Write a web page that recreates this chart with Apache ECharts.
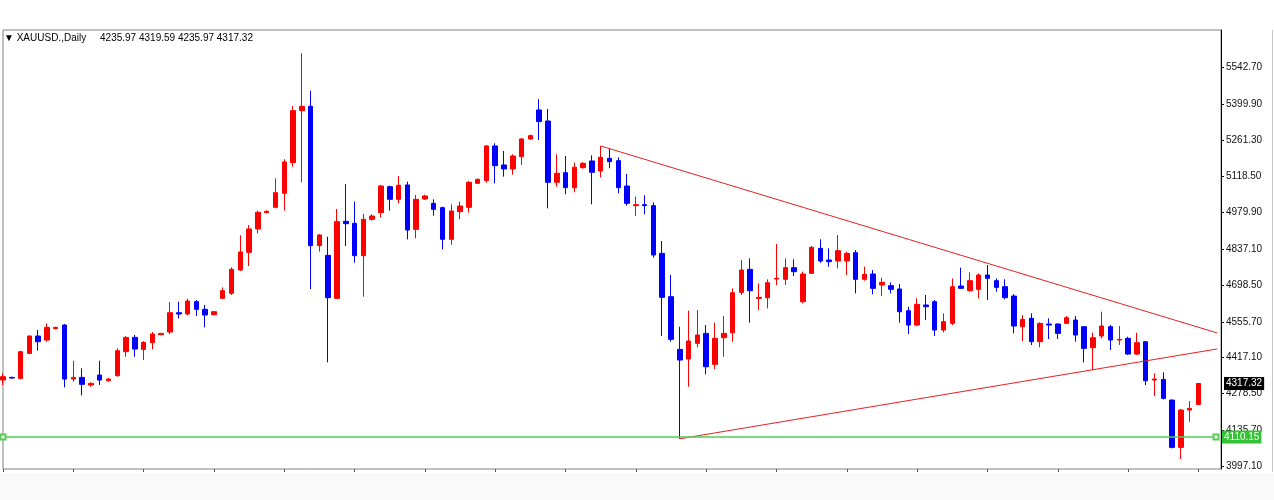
<!DOCTYPE html>
<html>
<head>
<meta charset="utf-8">
<title>XAUUSD Daily</title>
<script src="https://cdn.jsdelivr.net/npm/echarts@6/dist/echarts.min.js"></script>
<style>
    html, body { margin: 0; padding: 0; background: #fff; }
    #chart { width: 1274px; height: 500px; }
</style>
</head>
<body>
<div id="chart"></div>
<script>
// daily bars, each one [open, close, low, high]
var candles = [
    [4330.7, 4343.6, 4311.3, 4356.5], [4341.0, 4338.4, 4335.8, 4343.6], [4337.1, 4440.5, 4333.2, 4444.4],
    [4434.0, 4501.2, 4431.4, 4503.8], [4501.2, 4479.2, 4444.4, 4524.5], [4485.7, 4534.8, 4479.2, 4550.3],
    [4529.6, 4534.8, 4527.0, 4537.4], [4543.8, 4334.5, 4302.2, 4547.7], [4334.5, 4341.0, 4324.2, 4405.6],
    [4341.0, 4313.9, 4271.2, 4375.9], [4311.3, 4317.7, 4304.8, 4321.6], [4350.0, 4330.7, 4311.3, 4405.6],
    [4328.1, 4334.5, 4324.2, 4338.4], [4347.5, 4444.4, 4343.6, 4453.4], [4440.5, 4496.0, 4421.1, 4501.2],
    [4496.0, 4450.8, 4421.1, 4505.1], [4449.5, 4476.7, 4408.2, 4481.8], [4475.4, 4509.0, 4449.5, 4516.7],
    [4506.4, 4511.5, 4505.1, 4512.8], [4516.7, 4591.6, 4509.0, 4633.0], [4591.6, 4586.5, 4569.7, 4634.3],
    [4586.5, 4636.9, 4581.3, 4645.9], [4634.3, 4604.6, 4578.7, 4640.7], [4604.6, 4582.6, 4534.8, 4621.4],
    [4583.9, 4595.5, 4581.3, 4598.1], [4647.2, 4676.9, 4644.6, 4689.8], [4666.6, 4759.6, 4660.1, 4767.4],
    [4757.0, 4826.8, 4753.1, 4891.4], [4825.5, 4916.0, 4772.5, 4931.4], [4916.0, 4980.5, 4899.1, 4987.0],
    [4979.2, 4984.4, 4976.7, 4988.3], [4999.9, 5056.8, 4996.0, 5112.3], [5054.2, 5175.6, 4987.0, 5186.0],
    [5173.1, 5374.6, 5157.5, 5392.7], [5374.6, 5391.4, 5096.8, 5596.8], [5391.4, 4851.3, 4683.4, 5452.1],
    [4851.3, 4892.7, 4828.1, 4896.6], [4813.9, 4649.8, 4399.1, 4886.2], [4647.2, 4944.4, 4644.6, 4993.5],
    [4945.7, 4936.6, 4850.0, 5090.4], [4937.9, 4812.6, 4785.4, 5021.9], [4812.6, 4953.4, 4653.7, 4974.1],
    [4953.4, 4966.3, 4948.2, 4972.8], [4979.2, 5082.6, 4961.2, 5086.5], [5080.0, 5030.9, 4987.0, 5083.9],
    [5030.9, 5085.2, 5015.4, 5121.4], [5086.5, 4912.1, 4875.9, 5099.4], [4914.6, 5030.9, 4879.8, 5047.7],
    [5032.2, 5043.8, 5028.3, 5049.0], [5015.4, 4992.2, 4967.6, 5030.9], [4998.6, 4875.9, 4837.1, 5002.5],
    [4875.9, 4985.7, 4855.2, 5011.5], [4983.1, 5005.1, 4953.4, 5021.9], [4999.9, 5096.8, 4979.2, 5102.0],
    [5092.9, 5108.4, 5090.4, 5111.0], [5103.3, 5237.6, 5095.5, 5241.5], [5237.6, 5161.4, 5092.9, 5248.0],
    [5164.0, 5148.5, 5118.8, 5218.3], [5148.5, 5198.9, 5126.5, 5205.3], [5196.3, 5264.8, 5164.0, 5268.6],
    [5264.8, 5277.7, 5260.9, 5281.6], [5377.2, 5332.0, 5260.9, 5418.5], [5334.5, 5096.8, 4996.0, 5381.1],
    [5096.8, 5131.7, 5080.0, 5205.3], [5134.3, 5076.2, 5050.3, 5198.9], [5076.2, 5155.0, 5058.1, 5173.1],
    [5153.7, 5170.5, 5149.8, 5174.3], [5179.5, 5135.6, 5011.5, 5201.5], [5140.7, 5193.7, 5116.2, 5237.6],
    [5189.8, 5176.9, 5151.1, 5226.0], [5180.8, 5076.2, 5054.2, 5193.7], [5082.6, 5015.4, 5006.4, 5129.1],
    [5006.4, 5010.3, 4966.3, 5041.3], [5010.3, 5006.4, 4972.8, 5046.4], [5006.4, 4815.2, 4804.8, 5019.3],
    [4821.6, 4651.1, 4501.2, 4869.4], [4653.7, 4488.3, 4479.2, 4737.6], [4449.5, 4408.2, 4103.0, 4537.4],
    [4412.1, 4481.8, 4304.8, 4599.4], [4472.8, 4505.1, 4457.3, 4602.0], [4511.5, 4382.3, 4352.6, 4543.8],
    [4391.4, 4492.2, 4373.3, 4552.9], [4494.7, 4511.5, 4421.1, 4578.7], [4514.1, 4669.2, 4479.2, 4686.0],
    [4670.4, 4757.0, 4660.1, 4795.8], [4759.6, 4676.9, 4552.9, 4802.2], [4647.2, 4651.1, 4602.0, 4705.3],
    [4649.8, 4707.9, 4608.4, 4720.9], [4722.1, 4724.7, 4698.9, 4857.8], [4720.9, 4766.1, 4698.9, 4802.2],
    [4766.1, 4750.6, 4733.8, 4798.4], [4634.3, 4741.5, 4627.8, 4750.6], [4744.1, 4844.9, 4741.5, 4850.0],
    [4841.0, 4791.9, 4785.4, 4875.9], [4795.8, 4789.3, 4770.0, 4841.0], [4791.9, 4831.9, 4763.5, 4892.7],
    [4791.9, 4821.6, 4737.6, 4828.1], [4824.2, 4720.9, 4666.6, 4834.5], [4720.9, 4740.2, 4715.7, 4770.0],
    [4741.5, 4686.0, 4662.7, 4757.0], [4698.9, 4709.2, 4656.2, 4727.3], [4696.3, 4682.1, 4666.6, 4709.2],
    [4683.4, 4595.5, 4552.9, 4702.8], [4599.4, 4543.8, 4509.0, 4614.9], [4543.8, 4623.9, 4540.0, 4647.2],
    [4621.4, 4614.9, 4563.2, 4660.1], [4634.3, 4524.5, 4501.2, 4640.7], [4524.5, 4556.8, 4515.4, 4589.1],
    [4550.3, 4692.4, 4543.8, 4724.7], [4695.0, 4686.0, 4684.7, 4766.1], [4676.9, 4715.7, 4673.0, 4748.0],
    [4682.1, 4737.6, 4647.2, 4744.1], [4737.6, 4724.7, 4640.7, 4776.4], [4715.7, 4689.8, 4673.0, 4724.7],
    [4692.4, 4649.8, 4643.3, 4720.9], [4656.2, 4540.0, 4511.5, 4664.0], [4537.4, 4565.8, 4481.8, 4582.6],
    [4569.7, 4479.2, 4466.3, 4589.1], [4479.2, 4550.3, 4457.3, 4554.2], [4547.7, 4543.8, 4489.6, 4569.7],
    [4547.7, 4511.5, 4489.6, 4550.3], [4550.3, 4572.3, 4547.7, 4578.7], [4563.2, 4505.1, 4479.2, 4578.7],
    [4537.4, 4453.4, 4399.1, 4540.0], [4456.0, 4494.7, 4369.4, 4514.1], [4501.2, 4540.0, 4492.2, 4595.5],
    [4537.4, 4485.7, 4446.9, 4543.8], [4485.7, 4488.3, 4466.3, 4540.0], [4492.2, 4431.4, 4427.6, 4498.6],
    [4431.4, 4475.4, 4427.6, 4514.1], [4479.2, 4328.1, 4311.3, 4481.8], [4330.7, 4334.5, 4268.6, 4356.5],
    [4333.2, 4259.6, 4255.7, 4360.4], [4253.1, 4069.7, 4065.8, 4255.7], [4069.7, 4214.4, 4024.5, 4218.3],
    [4214.4, 4220.8, 4169.2, 4249.3], [4235.97, 4317.32, 4235.97, 4319.59]
];

// two empty slots of chart shift on the right
var categories = [];
for (var i = 0; i < candles.length + 2; i++) {
    categories.push('D' + (i + 1));
}

var priceTicks = [5542.70, 5399.90, 5261.30, 5118.50, 4979.90, 4837.10,
                  4698.50, 4555.70, 4417.10, 4278.50, 4135.70, 3997.10];
var priceMin = 3986;
var priceMax = 5687;

// trend lines: [bar index, price]
var trendUpper = [[68, 5237.6], [138.57, 4508.6]];
var trendLower = [[77, 4103.0], [138.57, 4453.7]];
var supportLevel = 4110.15;

var last = candles[candles.length - 1];
var lastPrice = last[1];
var header = '\u25BC XAUUSD.,Daily     ' + [last[0], last[3], last[2], last[1]].map(function (v) {
    return v.toFixed(2);
}).join(' ');

var font = 'Liberation Sans';

~function () {
    var myChart = echarts.init(document.getElementById('chart'));
    var option = {
        backgroundColor: '#fff',
        animation: false,
        title: {
            text: header,
            left: 4,
            top: 33,
            padding: 0,
            textStyle: {
                fontFamily: font,
                fontSize: 10,
                fontWeight: 'normal',
                color: '#000'
            }
        },
        graphic: [
            {
                type: 'rect',
                shape: {x: 0, y: 473, width: 1274, height: 27},
                style: {fill: '#f9f9f9'},
                z: -1
            },
            {
                type: 'line',
                shape: {x1: 1272.5, y1: 30, x2: 1272.5, y2: 472},
                style: {stroke: '#c8c8c8', lineWidth: 1}
            }
        ],
        grid: [
            {
                left: 3, right: 53, top: 30, bottom: 31,
                show: true,
                borderColor: '#808080',
                borderWidth: 1,
                backgroundColor: '#fff',
                outerBoundsMode: 'none'
            },
            {
                left: 3, width: 1213, top: 30, bottom: 31,
                outerBoundsMode: 'none'
            }
        ],
        xAxis: [
            {
                type: 'category',
                gridIndex: 0,
                data: categories,
                show: false
            },
            {
                type: 'category',
                gridIndex: 1,
                data: categories,
                boundaryGap: false,
                axisLine: {show: false},
                axisTick: {show: true, interval: 7, length: 3, lineStyle: {color: '#555'}},
                axisLabel: {show: false},
                splitLine: {show: false}
            },
            {
                type: 'value',
                gridIndex: 1,
                min: 0,
                max: categories.length - 1,
                show: false
            }
        ],
        yAxis: [
            {
                type: 'value',
                gridIndex: 0,
                position: 'right',
                min: priceMin,
                max: priceMax,
                axisLine: {show: true, lineStyle: {color: '#000', width: 1}},
                axisTick: {show: true, length: 3, customValues: priceTicks, lineStyle: {color: '#000'}},
                axisLabel: {
                    show: true,
                    customValues: priceTicks,
                    margin: 5,
                    fontFamily: font,
                    fontSize: 10,
                    color: '#111',
                    formatter: function (v) {
                        return v.toFixed(2);
                    }
                },
                splitLine: {show: false}
            },
            {
                type: 'value',
                gridIndex: 1,
                min: priceMin,
                max: priceMax,
                show: false,
                splitLine: {show: false}
            }
        ],
        series: [
            {
                name: 'XAUUSD',
                type: 'candlestick',
                xAxisIndex: 1,
                yAxisIndex: 1,
                data: candles,
                barWidth: 5,
                clip: true,
                itemStyle: {
                    color: '#ff0000',
                    color0: '#0000ff',
                    borderColor: '#ff0000',
                    borderColor0: '#0000ff',
                    borderWidth: 1
                },
                markLine: {
                    silent: true,
                    symbol: ['emptyRect', 'emptyRect'],
                    symbolSize: 5,
                    animation: false,
                    lineStyle: {color: '#55cc55', width: 1.5, type: 'solid'},
                    label: {
                        position: 'end',
                        distance: 6,
                        backgroundColor: '#33c233',
                        color: '#fff',
                        padding: [2, 2, 1, 2],
                        fontFamily: font,
                        fontSize: 10,
                        formatter: function (p) {
                            return p.value.toFixed(2);
                        }
                    },
                    data: [{yAxis: supportLevel}]
                }
            },
            {
                name: 'upper',
                type: 'line',
                xAxisIndex: 2,
                yAxisIndex: 1,
                data: trendUpper,
                clip: false,
                symbol: 'none',
                lineStyle: {color: '#e82020', width: 1},
                markLine: {
                    silent: true,
                    symbol: 'none',
                    animation: false,
                    lineStyle: {color: 'rgba(0,0,0,0)', width: 0},
                    label: {
                        position: 'end',
                        distance: 8,
                        backgroundColor: '#000',
                        color: '#fff',
                        padding: [2, 2, 1, 2],
                        fontFamily: font,
                        fontSize: 10,
                        formatter: function (p) {
                            return p.value.toFixed(2);
                        }
                    },
                    data: [{yAxis: lastPrice}]
                }
            },
            {
                name: 'lower',
                type: 'line',
                xAxisIndex: 2,
                yAxisIndex: 1,
                data: trendLower,
                clip: false,
                symbol: 'none',
                lineStyle: {color: '#e82020', width: 1}
            }
        ]
    };
    myChart.setOption(option);
}();
</script>
</body>
</html>
